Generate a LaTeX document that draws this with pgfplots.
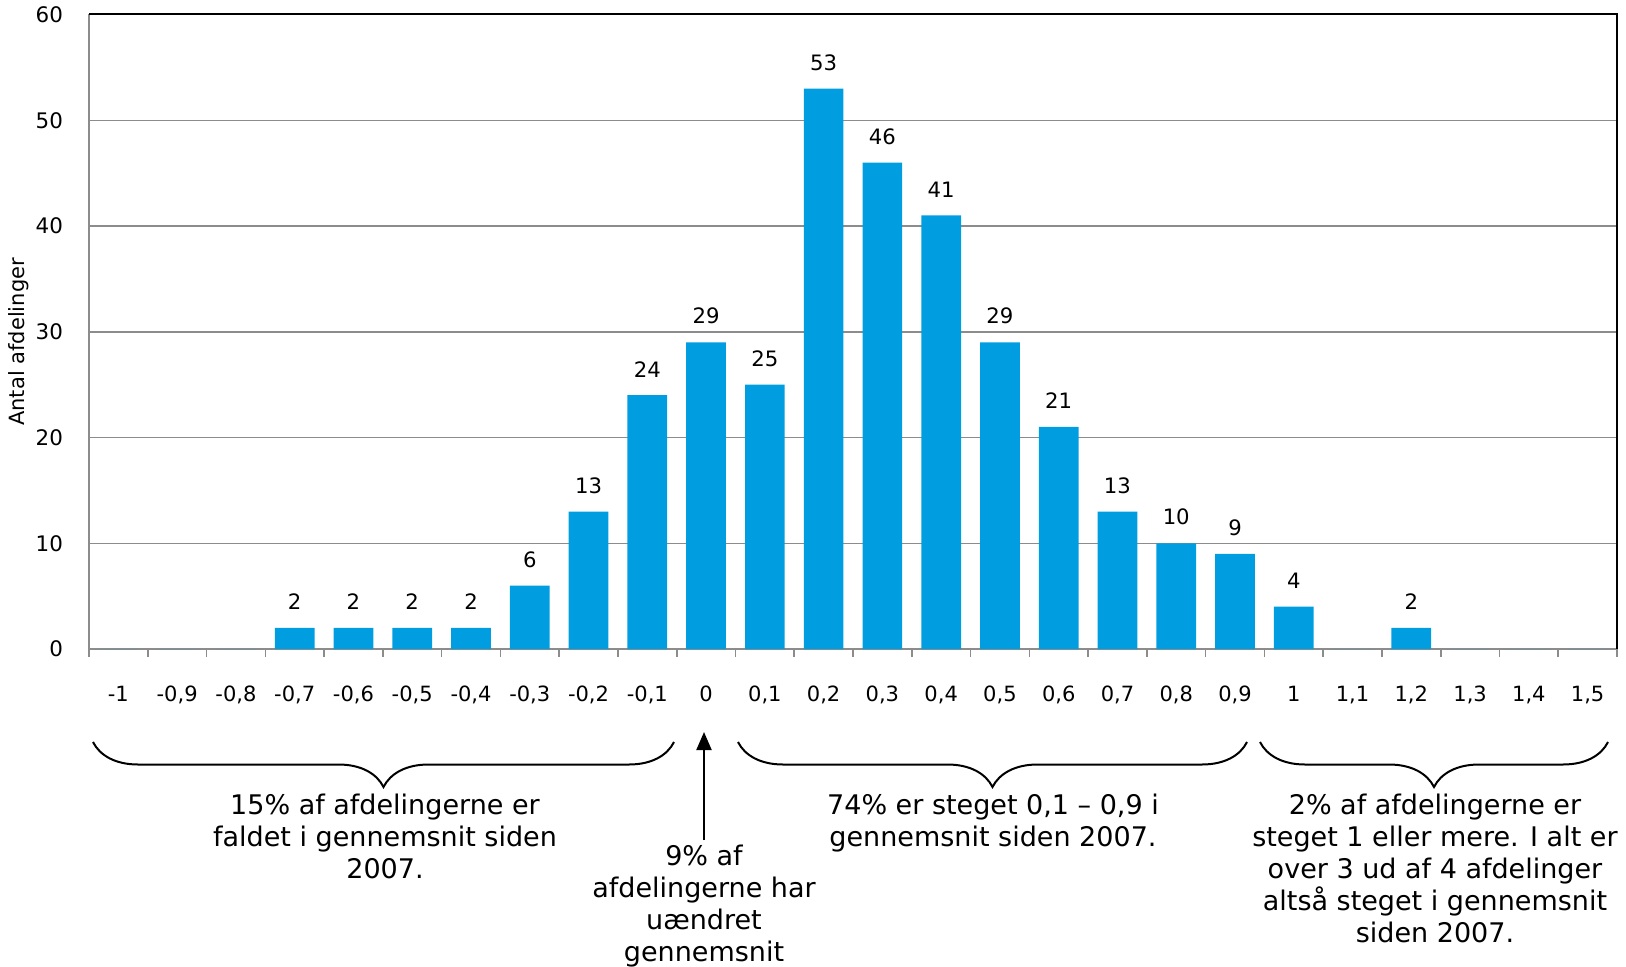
\documentclass[border=0pt]{standalone}
\usepackage{fontspec}
\setmainfont{DejaVu Sans}
\usepackage{pgfplots}
\pgfplotsset{compat=1.18}
\usepackage{pgfplotstable}
\usetikzlibrary{decorations.pathreplacing,arrows.meta}
\definecolor{barblue}{RGB}{0,158,224}
\definecolor{gridgray}{RGB}{140,140,140}
\pgfplotstableread{
x y
0 0
1 0
2 0
3 2
4 2
5 2
6 2
7 6
8 13
9 24
10 29
11 25
12 53
13 46
14 41
15 29
16 21
17 13
18 10
19 9
20 4
21 0
22 2
23 0
24 0
25 0
}\datatable
\begin{document}
\begin{tikzpicture}
\path[use as bounding box] (0,0) rectangle (813pt,483pt);
\begin{axis}[
  at={(44.5pt,158.5pt)}, anchor=south west,
  scale only axis, width=764pt, height=317.25pt,
  xmin=-0.5, xmax=25.5, ymin=0, ymax=60,
  ytick={0,10,...,60},
  xtick={0,...,25},
  xticklabels={-1,{-0,9},{-0,8},{-0,7},{-0,6},{-0,5},{-0,4},{-0,3},{-0,2},{-0,1},0,{0,1},{0,2},{0,3},{0,4},{0,5},{0,6},{0,7},{0,8},{0,9},1,{1,1},{1,2},{1,3},{1,4},{1,5}},
  minor xtick={-0.5,0.5,...,25.5},
  axis x line*=bottom, axis y line*=left,
  x axis line style={gridgray, line width=1pt, -},
  y axis line style={gridgray, line width=1pt, -},
  major tick length=0pt,
  minor tick length=4pt,
  tick align=outside,
  minor tick style={gridgray, line width=0.8pt},
  ymajorgrids,
  major grid style={gridgray, line width=0.75pt},
  /pgf/number format/assume math mode=true,
  xticklabel style={font=\fontsize{10.5}{12}\selectfont, yshift=-15pt},
  yticklabel style={font=\fontsize{10.7}{12}\selectfont, xshift=-9.5pt},
  every axis y label/.style={at={(axis description cs:-0.046,0.484)}, rotate=90, anchor=center, font=\fontsize{10.5}{12}\selectfont},
  ylabel={Antal afdelinger},
  ybar, bar width=19.85pt,
  clip=false,
]
\addplot[fill=barblue, draw=none,
  point meta=explicit symbolic,
  nodes near coords={\ifnum\pgfplotspointmeta>0 \pgfplotspointmeta\fi},
  every node near coord/.append style={font=\fontsize{10.6}{12}\selectfont, yshift=5.5pt, black}]
  table[x=x, y=y, meta=y]{\datatable};
\draw[black, line width=1pt] (rel axis cs:0,1) -- (rel axis cs:1,1) -- (rel axis cs:1,0);
\end{axis}
\begin{scope}[line width=1pt]
\draw[decorate, decoration={brace, mirror, amplitude=22.5pt, aspect=0.5}] (46.5pt,112pt) -- (337pt,112pt);
\draw[decorate, decoration={brace, mirror, amplitude=22.5pt, aspect=0.5}] (369pt,112pt) -- (623.5pt,112pt);
\draw[decorate, decoration={brace, mirror, amplitude=22.5pt, aspect=0.5}] (630pt,112pt) -- (804pt,112pt);
\draw[-{Triangle[length=9pt,width=7.5pt]}] (352pt,63pt) -- (352pt,117pt);
\end{scope}
\begin{scope}[every node/.style={align=center, anchor=north, inner sep=0pt, font=\fontsize{13.5}{16}\selectfont}]
\node at (192.5pt,86pt) {15\% af afdelingerne er\\faldet i gennemsnit siden\\2007.};
\node at (352pt,60.5pt) {9\% af\\afdelingerne har\\uændret\\gennemsnit};
\node at (496.5pt,86pt) {74\% er steget 0,1 – 0,9 i\\gennemsnit siden 2007.};
\node at (717.5pt,86pt) {2\% af afdelingerne er\\steget 1 eller mere. I alt er\\over 3 ud af 4 afdelinger\\altså steget i gennemsnit\\siden 2007.};
\end{scope}
\end{tikzpicture}
\end{document}
